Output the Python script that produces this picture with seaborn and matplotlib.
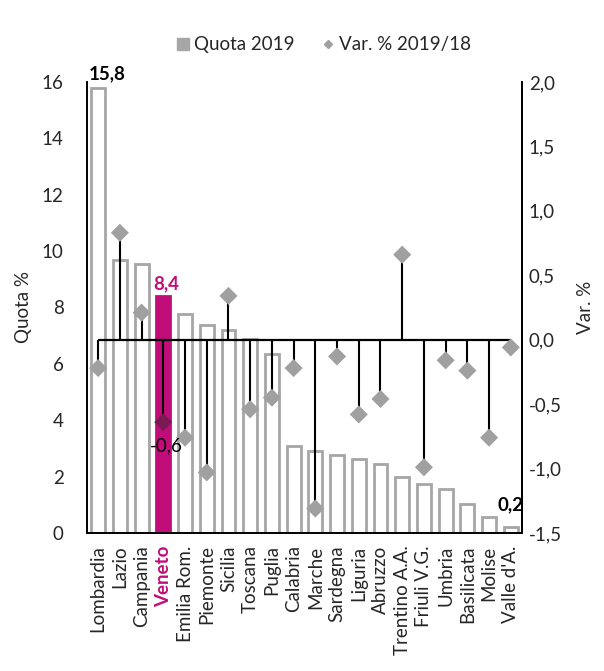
import matplotlib
matplotlib.use("Agg")
import matplotlib.pyplot as plt
import seaborn as sns
import pandas as pd
import numpy as np
from matplotlib.lines import Line2D

regioni = ["Lombardia", "Lazio", "Campania", "Veneto", "Emilia Rom.", "Piemonte",
           "Sicilia", "Toscana", "Puglia", "Calabria", "Marche", "Sardegna",
           "Liguria", "Abruzzo", "Trentino A.A.", "Friuli V.G.", "Umbria",
           "Basilicata", "Molise", "Valle d'A."]
quota_2019 = [15.8, 9.68, 9.56, 8.4, 7.76, 7.38, 7.19, 6.88, 6.34, 3.08, 2.91, 2.76,
              2.64, 2.44, 2.0, 1.73, 1.56, 1.02, 0.58, 0.2]
var_2019_18 = [-0.22, 0.83, 0.21, -0.64, -0.76, -1.03, 0.34, -0.54, -0.45, -0.22,
               -1.31, -0.13, -0.58, -0.46, 0.66, -0.99, -0.16, -0.24, -0.76, -0.06]
highlight = "Veneto"

MAGENTA = "#C00D7A"
GRAY = "#A6A6A6"
DIAMOND = "#A0A0A0"
FS = 13.5

sns.set_style("white")
plt.rcParams["font.family"] = ["Lato", "DejaVu Sans"]

df = pd.DataFrame({"regione": regioni, "quota": quota_2019, "var": var_2019_18})


def fmt(v):
    return f"{v:.1f}".replace(".", ",")


fig = plt.figure(figsize=(6.04, 6.71), dpi=100)
ax = fig.add_axes([0.1445, 0.2057, 0.7192, 0.6721])

sns.barplot(data=df, x="regione", y="quota", order=regioni, ax=ax,
            color="white", width=0.64, linewidth=2.0, edgecolor=GRAY,
            saturation=1)
for patch, name in zip(ax.patches, regioni):
    if name == highlight:
        patch.set_facecolor(MAGENTA)
        patch.set_edgecolor(MAGENTA)

ax.set_xlim(-0.5, len(regioni) - 0.5)
ax.set_ylim(0, 16)
ax.set_yticks(range(0, 17, 2))
ax.set_yticklabels([str(v) for v in range(0, 17, 2)], fontsize=FS)
ax.set_xlabel("")
ax.set_ylabel("Quota %", fontsize=FS, labelpad=7)
ax.tick_params(axis="x", length=0, pad=9)
ax.tick_params(axis="y", length=0, pad=17)
ax.set_xticks(range(len(regioni)))
ax.set_xticklabels(regioni, rotation=90, fontsize=FS)
for lbl in ax.get_xticklabels():
    if lbl.get_text() == highlight:
        lbl.set_color(MAGENTA)
        lbl.set_fontweight("bold")

ax.spines["top"].set_visible(False)
for side in ["left", "bottom", "right"]:
    ax.spines[side].set_color("black")
    ax.spines[side].set_linewidth(1.4)

# Value labels on selected bars
pos = {n: i for i, n in enumerate(regioni)}
q = dict(zip(regioni, quota_2019))
ax.text(pos["Lombardia"] + 0.4, q["Lombardia"] + 0.2, fmt(q["Lombardia"]),
        ha="center", va="bottom", fontsize=FS, fontweight="bold", color="black")
ax.text(pos[highlight] + 0.15, q[highlight] + 0.15, fmt(q[highlight]),
        ha="center", va="bottom", fontsize=FS, fontweight="bold", color=MAGENTA)
ax.text(pos["Valle d'A."], q["Valle d'A."] + 0.5, fmt(q["Valle d'A."]),
        ha="center", va="bottom", fontsize=FS, fontweight="bold", color="black")

# Secondary axis: lollipop of the yearly variation
ax2 = ax.twinx()
ax2.set_ylim(-1.5, 2.0)
x = np.arange(len(regioni))
ax2.hlines(0, x[0], x[-1], color="black", linewidth=1.6, zorder=2)
ax2.vlines(x, 0, var_2019_18, color="black", linewidth=1.5, zorder=2)
colors = ["#7A1A52" if n == highlight else DIAMOND for n in regioni]
ax2.scatter(x, var_2019_18, marker="D", s=85, c=colors, zorder=3, linewidths=0)
v = dict(zip(regioni, var_2019_18))
ax2.text(pos[highlight] + 0.15, v[highlight] - 0.12, fmt(v[highlight]),
         ha="center", va="top", fontsize=FS, color="black")
rticks = np.arange(-1.5, 2.01, 0.5)
ax2.set_yticks(rticks)
ax2.set_yticklabels([fmt(t) for t in rticks], fontsize=FS)
ax2.tick_params(axis="y", length=0, pad=5)
ax2.set_ylabel("Var. %", fontsize=FS, labelpad=11)
ax2.spines["top"].set_visible(False)
ax2.spines["right"].set_color("black")
ax2.spines["right"].set_linewidth(1.4)
ax2.spines["left"].set_visible(False)
ax2.spines["bottom"].set_visible(False)

handles = [
    Line2D([0], [0], marker="s", color="none", markerfacecolor=GRAY,
           markeredgecolor=GRAY, markersize=9, label="Quota 2019"),
    Line2D([0], [0], marker="D", color="none", markerfacecolor=DIAMOND,
           markeredgecolor=DIAMOND, markersize=4.5, label="Var. % 2019/18"),
]
fig.legend(handles=handles, loc="center", bbox_to_anchor=(0.535, 0.933), ncol=2,
           frameon=False, fontsize=FS, handlelength=0.8, handletextpad=0.2,
           columnspacing=1.4)

fig.savefig("out.png", dpi=100)
